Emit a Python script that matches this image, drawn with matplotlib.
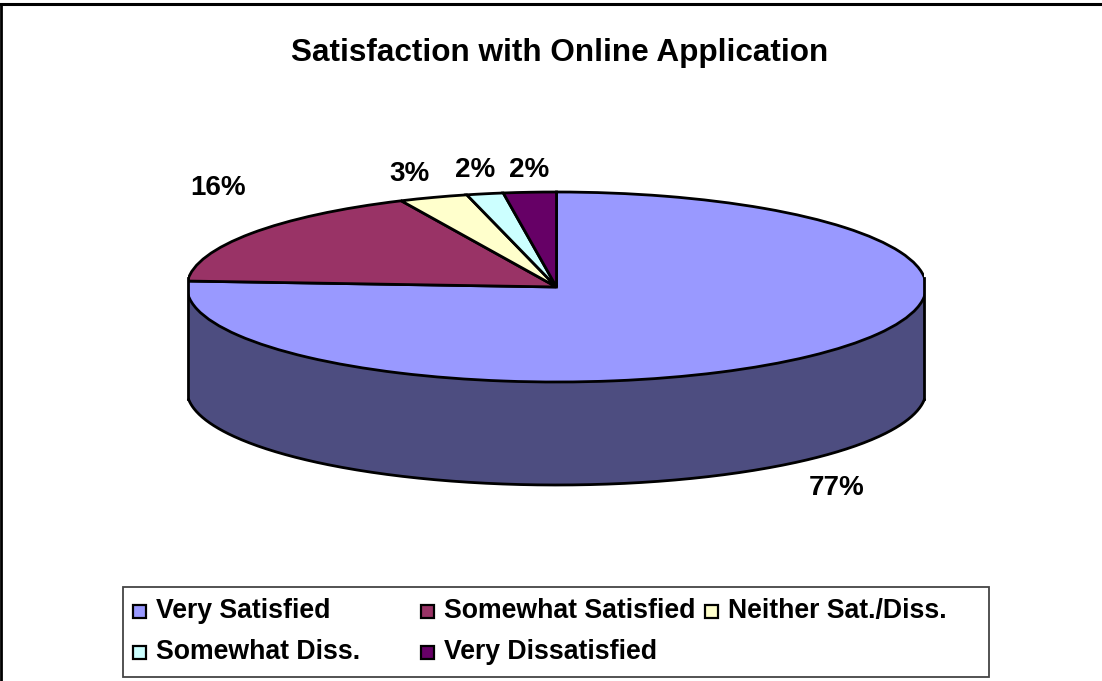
import numpy as np
import matplotlib
matplotlib.use("Agg")
import matplotlib.pyplot as plt
from matplotlib.patches import Rectangle
from matplotlib.lines import Line2D

plt.rcParams['font.family'] = ['Liberation Sans', 'DejaVu Sans']

W, H = 1102, 681

# shares as they look on the drawn pie, labels as printed
categorias = ['Very Satisfied', 'Somewhat Satisfied', 'Neither Sat./Diss.', 'Somewhat Diss.', 'Very Dissatisfied']
valores = [76.0, 17.1, 3.0, 1.6, 2.3]
etiquetas = ['77%', '16%', '3%', '2%', '2%']
colores = ['#9999FF', '#993366', '#FFFFCC', '#CCFFFF', '#660066']
color_lado = '#4D4D80'


def px(x, y):
    # pixel de la imagen -> fraccion de la figura
    return x / W, 1 - y / H


fig = plt.figure(figsize=(W / 100, H / 100), dpi=100, facecolor='white')

# pie: one data unit = the ellipse radius on each axis
# the original ellipse is cut flat at both sides, so it is a bit wider than the drawn width
cx, cy, rx, ry = 556.5, 287, 369.7, 95
limite = 368 / rx
alto = 103 / ry
ax = fig.add_axes([0, 0, 1, 1])
wedges, _ = ax.pie(valores, colors=colores, startangle=90, counterclock=False, radius=1,
                   wedgeprops=dict(edgecolor='black', linewidth=2, zorder=3))
ax.set_aspect('auto')
ax.set_xlim(-cx / rx, (W - cx) / rx)
ax.set_ylim((cy - H) / ry, cy / ry)
recorte = Rectangle((-limite, -3), 2 * limite, 6, transform=ax.transData)
for w in wedges:
    w.set_clip_on(True)  # pie() turns clipping off
    w.set_clip_path(recorte)

# front wall of the pie
theta = np.linspace(np.pi, 2 * np.pi, 400)
xs, ys = np.cos(theta), np.sin(theta)
keep = np.abs(xs) <= limite
xs, ys = xs[keep], ys[keep]
ax.fill_between(xs, ys, ys - alto, color=color_lado, linewidth=0, zorder=2)
ax.plot(xs, ys - alto, color='black', linewidth=2, zorder=4)
borde = np.sqrt(1 - limite ** 2)
ax.plot([-limite, -limite], [borde, -borde - alto], color='black', linewidth=2, zorder=4)
ax.plot([limite, limite], [borde, -borde - alto], color='black', linewidth=2, zorder=4)

# marco del grafico
fig.add_artist(Line2D([0, 1], [1 - 4 / H, 1 - 4 / H], color='black', linewidth=2.2))
fig.add_artist(Line2D([1 / W, 1 / W], [0, 1 - 4 / H], color='black', linewidth=2))

x, y = px(560, 53)
fig.text(x, y, 'Satisfaction with Online Application', fontsize=22.7, fontweight='bold',
         ha='center', va='center', color='black')

pos_etiquetas = [(837, 488), (218, 188), (409, 174), (475, 170), (529, 170)]
for txt, (ex, ey) in zip(etiquetas, pos_etiquetas):
    x, y = px(ex, ey)
    fig.text(x, y, txt, fontsize=20, fontweight='bold', ha='center', va='center', color='black')

# leyenda
fig.add_artist(Rectangle(px(123, 677), 866 / W, 90 / H, transform=fig.transFigure,
                         facecolor='white', edgecolor='#444444', linewidth=1.3))
pos_leyenda = [(133, 611), (421, 611), (705, 611), (133, 652), (421, 652)]
for nombre, color, (lx, ly) in zip(categorias, colores, pos_leyenda):
    fig.add_artist(Rectangle(px(lx, ly + 7), 13 / W, 13 / H, transform=fig.transFigure,
                             facecolor=color, edgecolor='black', linewidth=1.6))
    x, y = px(lx + 23, ly)
    fig.text(x, y, nombre, fontsize=19.2, fontweight='bold', ha='left', va='center', color='black')

fig.savefig('out.png', dpi=100)
